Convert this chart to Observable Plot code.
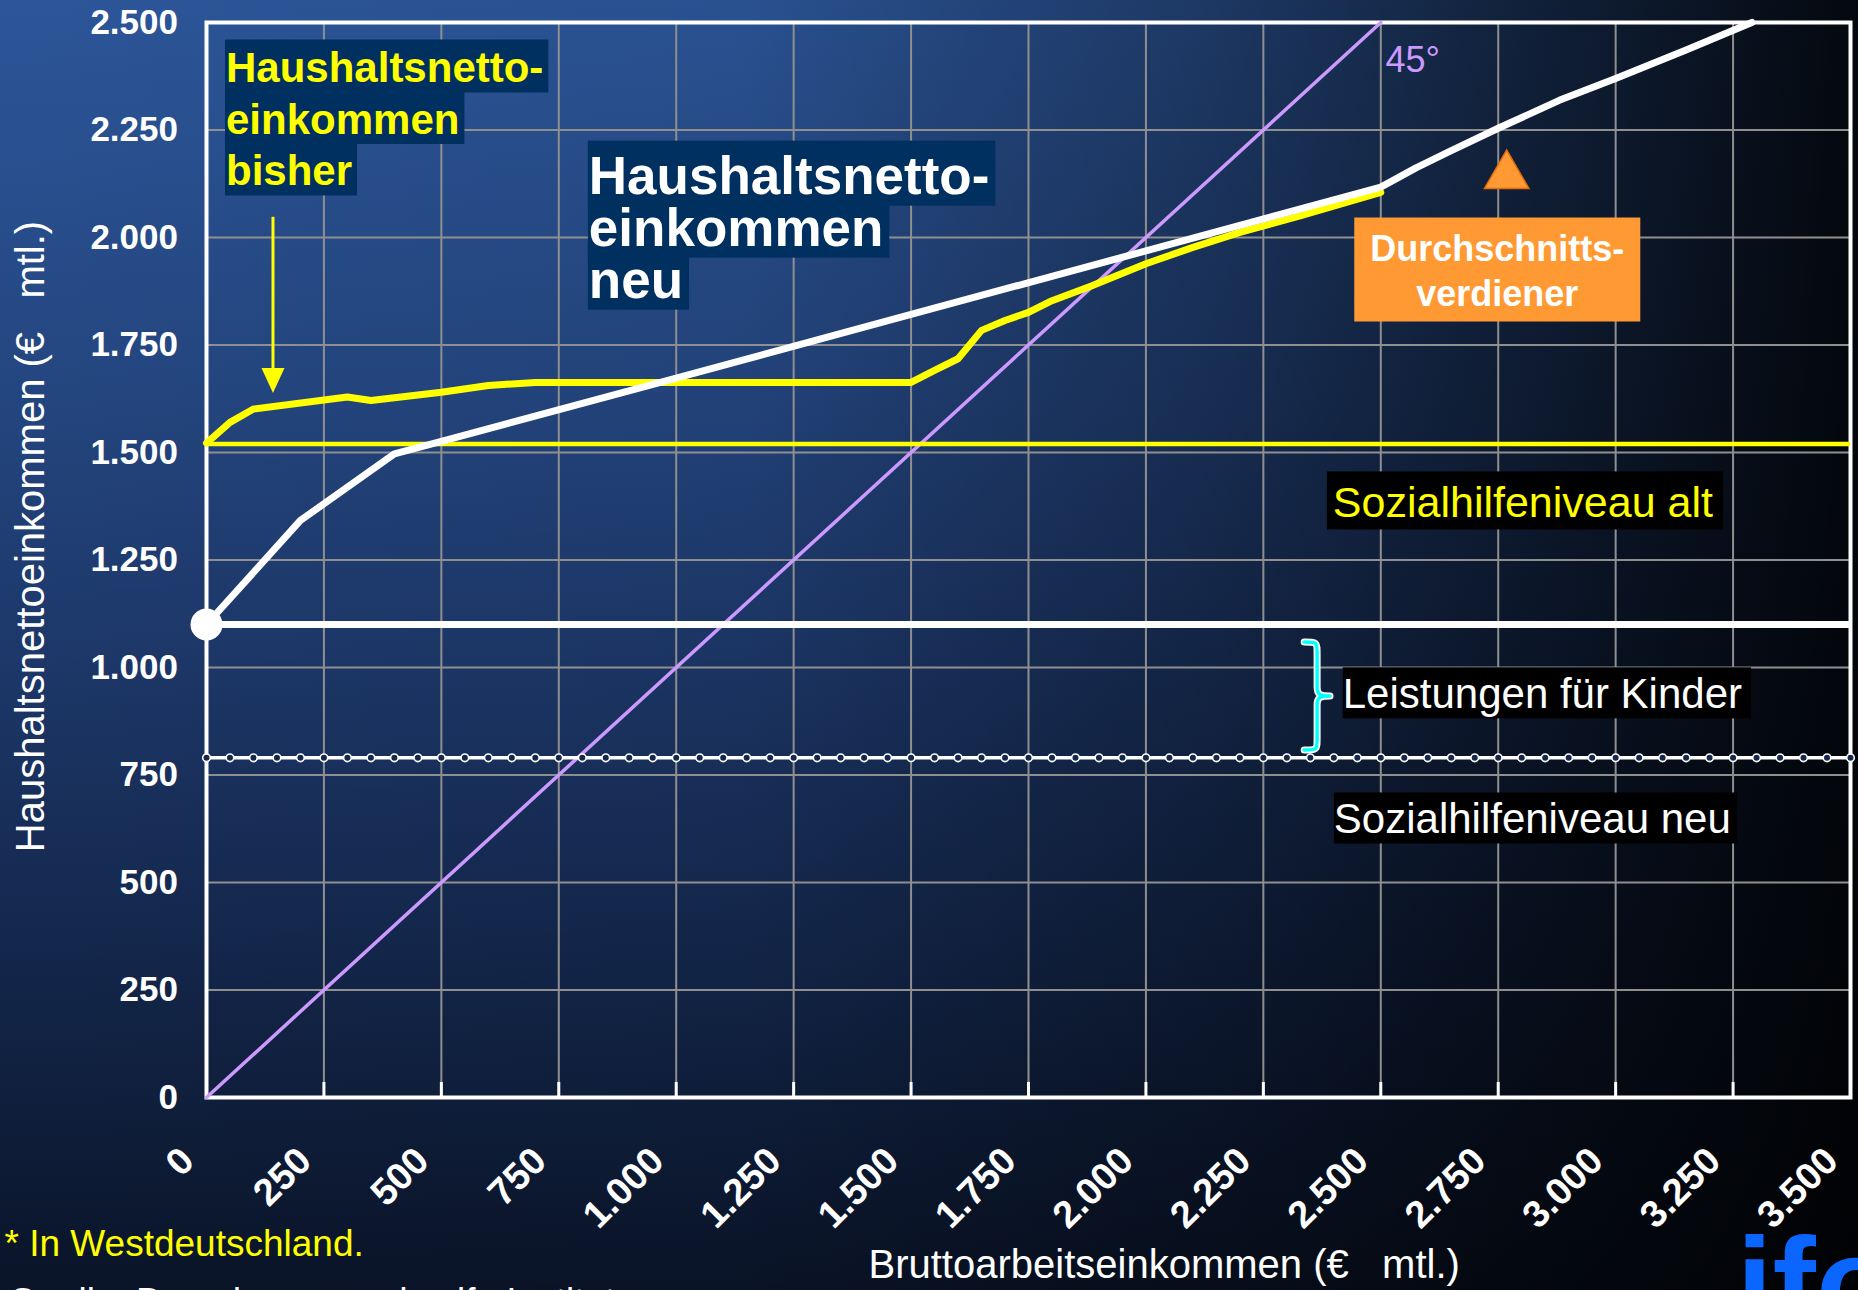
<!DOCTYPE html>
<html lang="de">
<head>
<meta charset="utf-8">
<title>Haushaltsnettoeinkommen</title>
<script src="https://cdn.jsdelivr.net/npm/d3@7"></script>
<script src="https://cdn.jsdelivr.net/npm/@observablehq/plot@0.6"></script>
<style>
  html, body { margin: 0; padding: 0; width: 1858px; height: 1290px; overflow: hidden; }
  body {
    background:
      linear-gradient(to right, rgba(0,0,0,0) 0%, rgba(0,0,0,0.06) 40%, rgba(0,0,0,0.35) 65%, rgba(0,0,0,0.62) 82%, rgba(0,0,0,0.9) 100%),
      linear-gradient(to bottom, #2c5699 0%, #244680 30%, #1d386a 50%, #13264a 75%, #0a1428 100%);
    font-family: "Liberation Sans", Arial, sans-serif;
  }
  #chart { position: absolute; left: 0; top: 0; }
</style>
</head>
<body>
<div id="chart"></div>
<script>
// ---------- data ----------
const xTicks = [0, 250, 500, 750, 1000, 1250, 1500, 1750, 2000, 2250, 2500, 2750, 3000, 3250, 3500];
const yTicks = [0, 250, 500, 750, 1000, 1250, 1500, 1750, 2000, 2250, 2500];

// Haushaltsnettoeinkommen bisher (yellow)
const bruttoBisher = [0, 50, 100, 300, 350, 500, 600, 700, 1500, 1550, 1600, 1650, 1700, 1750, 1800, 1885, 2000, 2100, 2200, 2330, 2500];
const nettoBisher  = [1522, 1570, 1601, 1629, 1621, 1640, 1656, 1663, 1663, 1691, 1718, 1784, 1807, 1826, 1853, 1888, 1939, 1977, 2012, 2051, 2105];

// Haushaltsnettoeinkommen neu (white)
const bruttoNeu = [0, 200, 400, 500, 1000, 1500, 2000, 2500, 2575, 2650, 2750, 2880, 3000, 3150, 3290];
const nettoNeu  = [1100, 1342, 1497, 1526, 1673, 1821, 1969, 2117, 2162, 2202, 2254, 2319, 2370, 2436, 2500];

// 45° line
const diagBrutto = [0, 2500];
const diagNetto  = [0, 2500];

// levels
const sozialhilfeAlt = 1520;
const sozialhilfeNeuKinder = 1100;
const sozialhilfeNeu = 790;
const markerBrutto = d3.range(0, 3501, 50);

// Durchschnittsverdiener marker
const durchschnittBrutto = [2768];
const durchschnittNetto = [2144];

// texts
const labelBisher = ["Haushaltsnetto-", "einkommen", "bisher"];
const labelNeu = ["Haushaltsnetto-", "einkommen", "neu"];
const labelDurchschnitt = ["Durchschnitts-", "verdiener"];
const labelAlt = ["Sozialhilfeniveau alt"];
const labelKinder = ["Leistungen für Kinder"];
const labelSozNeu = ["Sozialhilfeniveau neu"];
const label45 = ["45°"];
const yTitle = ["Haushaltsnettoeinkommen (€\u00a0\u00a0 mtl.)"];
const xTitle = ["Bruttoarbeitseinkommen (€\u00a0\u00a0 mtl.)"];
const footnote = ["* In Westdeutschland."];
const source = ["Quelle: Berechnungen des ifo Instituts."];
const logo = ["ifo"];

// ---------- helpers ----------
const FONT = "'Liberation Sans', Arial, Helvetica, sans-serif";
const NS = "http://www.w3.org/2000/svg";
const fmtDE = d3.formatLocale({decimal: ",", thousands: ".", grouping: [3], currency: ["", " €"]}).format(",d");
const bisher = bruttoBisher.map((x, i) => ({x, y: nettoBisher[i]}));
const neu = bruttoNeu.map((x, i) => ({x, y: nettoNeu[i]}));
const diag = diagBrutto.map((x, i) => ({x, y: diagNetto[i]}));
const durchschnitt = durchschnittBrutto.map((x, i) => ({x, y: durchschnittNetto[i]}));

const YELLOW = "#ffff00", WHITE = "white";

function el(tag, attrs) {
  const e = document.createElementNS(NS, tag);
  for (const k in attrs) e.setAttribute(k, attrs[k]);
  return e;
}
function textLines(arr, opts) {
  const {step = 0, ...rest} = opts;
  return arr.map((t, i) => Plot.text([t], {text: d => d, dy: i * step, textAnchor: "start", lineAnchor: "bottom", fontFamily: FONT, ...rest}));
}

// arrow + brace drawn with the plot's scales
function decorations(index, scales) {
  const {x, y} = scales;
  const g = el("g", {});
  const ax = x(142.6), yTop = y(2047), yTip = y(1637);
  g.append(el("line", {x1: ax, x2: ax, y1: yTop, y2: yTip - 20, stroke: YELLOW, "stroke-width": 3}));
  g.append(el("path", {d: `M${ax - 11.5},${yTip - 25}L${ax + 11.5},${yTip - 25}L${ax},${yTip}Z`, fill: YELLOW}));
  const x0 = x(2338), x1 = x(2393), y0 = y(1058), y1 = y(807);
  const xm = (x0 + x1) / 2, ym = (y0 + y1) / 2;
  const d = `M${x0},${y0} C${xm},${y0} ${xm},${y0} ${xm},${y0 + 12} L${xm},${ym - 9} C${xm},${ym - 2} ${xm + 2},${ym} ${x1},${ym} C${xm + 2},${ym} ${xm},${ym + 2} ${xm},${ym + 9} L${xm},${y1 - 12} C${xm},${y1} ${xm},${y1} ${x0},${y1}`;
  g.append(el("path", {d, fill: "none", stroke: "white", "stroke-width": 7, "stroke-linecap": "round", "stroke-linejoin": "round"}));
  g.append(el("path", {d, fill: "none", stroke: "#00ffff", "stroke-width": 3.5, "stroke-linecap": "round", "stroke-linejoin": "round"}));
  return g;
}

const chart = Plot.plot({
  width: 1858,
  height: 1290,
  marginLeft: 206,
  marginRight: 8,
  marginTop: 22,
  marginBottom: 193,
  x: {domain: [0, 3500]},
  y: {domain: [0, 2500]},
  style: {background: "transparent", color: "white", fontFamily: FONT, overflow: "visible"},
  marks: [
    Plot.gridX(xTicks.slice(1, -1), {stroke: "#8f8f8f", strokeOpacity: 1, strokeWidth: 2}),
    Plot.gridY(yTicks.slice(1, -1), {stroke: "#8f8f8f", strokeOpacity: 1, strokeWidth: 2}),
    Plot.ruleX(xTicks.slice(1, -1), {x: d => d, y1: 0, y2: 35, stroke: "white", strokeWidth: 3}),
    Plot.frame({stroke: "white", strokeWidth: 4}),
    Plot.line(diag, {x: "x", y: "y", stroke: "#cc99ff", strokeWidth: 3.5}),
    Plot.ruleY([sozialhilfeAlt], {stroke: YELLOW, strokeWidth: 4.5}),
    Plot.ruleY([sozialhilfeNeuKinder], {stroke: "white", strokeWidth: 7}),
    Plot.ruleY([sozialhilfeNeu], {stroke: "white", strokeWidth: 3.5}),
    Plot.dot(markerBrutto, {x: d => d, y: sozialhilfeNeu, r: 3.8, stroke: "white", strokeWidth: 1.6, fill: "#14284c"}),
    Plot.line(bisher, {x: "x", y: "y", stroke: YELLOW, strokeWidth: 7}),
    Plot.line(neu, {x: "x", y: "y", stroke: "white", strokeWidth: 7}),
    Plot.dot(neu.slice(0, 1), {x: "x", y: "y", r: 16, fill: "white"}),
    Plot.dot(durchschnitt, {x: "x", y: "y", r: 16.5, symbol: "triangle", fill: "#ff9933", stroke: "#e36c0a", strokeWidth: 1.5}),
    decorations,
    Plot.axisY(yTicks, {tickFormat: fmtDE, tickSize: 0, tickPadding: 28.5, fontSize: 35, fontWeight: "bold", label: null}),
    Plot.axisX(xTicks, {tickFormat: fmtDE, tickSize: 0, tickRotate: -45, tickPadding: 57, dx: -19, fontSize: 38, fontWeight: "bold", label: null}),
    Plot.text(yTitle, {text: d => d, frameAnchor: "left", textAnchor: "middle", rotate: -90, dx: -175, dy: -23.5, fontSize: 40, fill: "white"}),
    Plot.text(xTitle, {text: d => d, frameAnchor: "bottom-left", textAnchor: "start", lineAnchor: "bottom", dx: 662, dy: 180, fontSize: 40, fill: "white"}),
    Plot.text(footnote, {text: d => d, frameAnchor: "bottom-left", textAnchor: "start", lineAnchor: "bottom", dx: -202, dy: 158, fontSize: 37, fill: YELLOW}),
    Plot.text(source, {text: d => d, frameAnchor: "bottom-left", textAnchor: "start", lineAnchor: "bottom", dx: -198, dy: 216.5, fontSize: 37, fill: "white"}),
    Plot.text(logo, {text: d => d, frameAnchor: "bottom-right", textAnchor: "start", lineAnchor: "bottom", dx: -114, dy: 230.5, fontSize: 130, fontWeight: "bold", fill: "#0a66ff"}),
    Plot.text(label45, {text: d => d, x: 2510, y: 2386, textAnchor: "start", lineAnchor: "bottom", fontSize: 36, fill: "#cc99ff"}),
    ...textLines(labelBisher, {x: 41.5, y: 2360.5, step: 51.5, fontSize: 42, fontWeight: "bold", fill: YELLOW}),
    ...textLines(labelNeu, {x: 814, y: 2102, step: 52, fontSize: 53, fontWeight: "bold", fill: WHITE}),
    ...textLines(labelDurchschnitt, {x: 2748, y: 1946.5, step: 45, fontSize: 36, fontWeight: "bold", fill: WHITE, textAnchor: "middle"}),
    ...textLines(labelAlt, {x: 2398, y: 1349, fontSize: 43, fill: YELLOW}),
    ...textLines(labelKinder, {x: 2419, y: 905, fontSize: 42, fill: WHITE}),
    ...textLines(labelSozNeu, {x: 2400, y: 614, fontSize: 42, fill: WHITE})
  ]
});

document.getElementById("chart").append(chart);

// bold axis labels (fallback)
chart.querySelectorAll('g[aria-label="y-axis tick label"], g[aria-label="x-axis tick label"]').forEach(g => g.setAttribute("font-weight", "bold"));

// background boxes behind label texts
const boxSpecs = {
  bisher: {fill: "#003060", l: 1, r: 5, t: 5, b: 1, lines: labelBisher, color: YELLOW},
  neu: {fill: "#003060", l: 1, r: 6, t: 5, b: 1, lines: labelNeu, color: WHITE},
  orange: {fill: "#ff9933", l: 16, r: 16, t: 10, b: 8, union: true, lines: labelDurchschnitt, color: WHITE},
  alt: {fill: "#000000", l: 6, r: 10, t: 7, b: 3, lines: labelAlt, color: YELLOW},
  kinder: {fill: "#000000", l: 0, r: 9, t: 3, b: 1, lines: labelKinder, color: WHITE},
  sozneu: {fill: "#000000", l: 0, r: 6, t: 3, b: 1, lines: labelSozNeu, color: WHITE}
};
const root = chart.getBoundingClientRect();
const allTexts = [...chart.querySelectorAll("text")];
for (const spec of Object.values(boxSpecs)) {
  const found = allTexts.filter(t => {
    const holder = t.closest("[fill]");
    const fill = holder ? holder.getAttribute("fill") : "";
    return spec.lines.includes(t.textContent) && fill === spec.color && !t.closest('g[aria-label$="tick label"]');
  });
  if (!found.length) continue;
  const boxes = found.map(t => {
    const r = t.getBoundingClientRect();
    return {x0: r.left - root.left, y0: r.top - root.top, x1: r.right - root.left, y1: r.bottom - root.top};
  });
  const list = spec.union
    ? [boxes.reduce((a, b) => ({x0: Math.min(a.x0, b.x0), y0: Math.min(a.y0, b.y0), x1: Math.max(a.x1, b.x1), y1: Math.max(a.y1, b.y1)}))]
    : boxes;
  const firstGroup = found[0].parentNode;
  for (const b of list) {
    const rect = el("rect", {x: b.x0 - spec.l, y: b.y0 - spec.t, width: b.x1 - b.x0 + spec.l + spec.r, height: b.y1 - b.y0 + spec.t + spec.b, fill: spec.fill});
    firstGroup.parentNode.insertBefore(rect, firstGroup);
  }
}
</script>
</body>
</html>
